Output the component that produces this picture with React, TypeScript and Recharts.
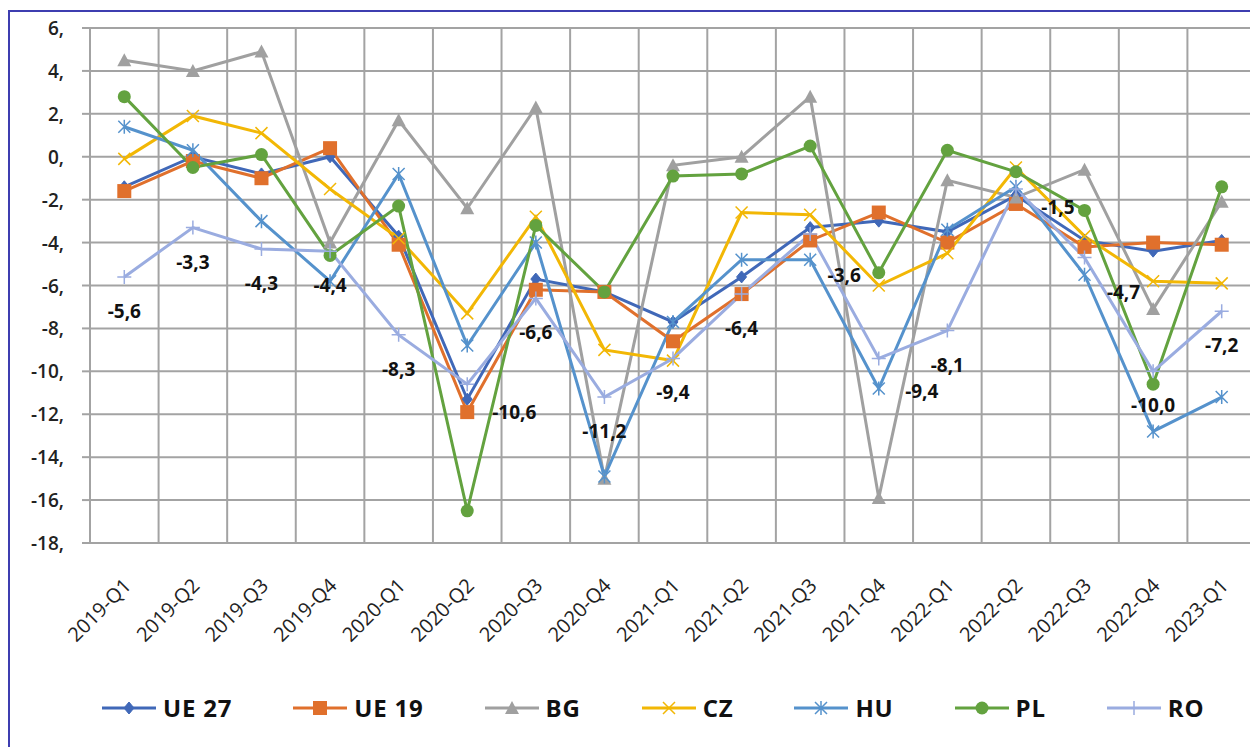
import React from 'react';
import { LineChart, Line, XAxis, YAxis, CartesianGrid, Legend, LabelList } from 'recharts';

const quarters = ['2019-Q1','2019-Q2','2019-Q3','2019-Q4','2020-Q1','2020-Q2','2020-Q3','2020-Q4','2021-Q1','2021-Q2','2021-Q3','2021-Q4','2022-Q1','2022-Q2','2022-Q3','2022-Q4','2023-Q1'];
const ue27 = [-1.4, 0.0, -0.8, 0.0, -3.7, -11.3, -5.7, -6.3, -7.7, -5.6, -3.3, -3.0, -3.5, -1.8, -3.9, -4.4, -3.9];
const ue19 = [-1.6, -0.2, -1.0, 0.4, -4.1, -11.9, -6.2, -6.3, -8.6, -6.4, -3.9, -2.6, -4.0, -2.2, -4.2, -4.0, -4.1];
const bg = [4.5, 4.0, 4.9, -4.0, 1.7, -2.4, 2.3, -15.0, -0.4, 0.0, 2.8, -15.9, -1.1, -1.9, -0.6, -7.1, -2.1];
const cz = [-0.1, 1.9, 1.1, -1.5, -3.8, -7.3, -2.8, -9.0, -9.5, -2.6, -2.7, -6.0, -4.5, -0.5, -3.7, -5.8, -5.9];
const hu = [1.4, 0.3, -3.0, -5.8, -0.8, -8.8, -4.0, -14.9, -7.7, -4.8, -4.8, -10.8, -3.4, -1.4, -5.5, -12.8, -11.2];
const pl = [2.8, -0.5, 0.1, -4.6, -2.3, -16.5, -3.2, -6.3, -0.9, -0.8, 0.5, -5.4, 0.3, -0.7, -2.5, -10.6, -1.4];
const ro = [-5.6, -3.3, -4.3, -4.4, -8.3, -10.6, -6.6, -11.2, -9.4, -6.4, -3.6, -9.4, -8.1, -1.5, -4.7, -10.0, -7.2];
const yTicks = [-18, -16, -14, -12, -10, -8, -6, -4, -2, 0, 2, 4, 6];

const data = quarters.map((q, i) => ({
  q, ue27: ue27[i], ue19: ue19[i], bg: bg[i], cz: cz[i], hu: hu[i], pl: pl[i], ro: ro[i],
}));

// label nudges for the RO data labels (dx, dy relative to point)
const roLabelNudge: Record<number, [number, number]> = {
  5: [47, 28], 10: [34, 41], 11: [43, 33], 13: [42, 18], 14: [39, 34],
};

const FONT = '"Open Sans", Lato, sans-serif';

type Shape = 'diamond' | 'square' | 'triangle' | 'x' | 'star' | 'circle' | 'plus';

const series: { key: string; name: string; color: string; shape: Shape }[] = [
  { key: 'ue27', name: 'UE 27', color: '#4068b8', shape: 'diamond' },
  { key: 'ue19', name: 'UE 19', color: '#e0702c', shape: 'square' },
  { key: 'bg', name: 'BG', color: '#a0a0a0', shape: 'triangle' },
  { key: 'cz', name: 'CZ', color: '#f2b705', shape: 'x' },
  { key: 'hu', name: 'HU', color: '#5592cc', shape: 'star' },
  { key: 'pl', name: 'PL', color: '#63a23f', shape: 'circle' },
  { key: 'ro', name: 'RO', color: '#9aace0', shape: 'plus' },
];

function Marker({ cx, cy, shape, color }: { cx: number; cy: number; shape: Shape; color: string }) {
  if (cx == null || cy == null || isNaN(cx) || isNaN(cy)) return null;
  switch (shape) {
    case 'diamond':
      return <path d={`M${cx},${cy - 6}L${cx + 5},${cy}L${cx},${cy + 6}L${cx - 5},${cy}Z`} fill={color} stroke={color} strokeWidth={1} />;
    case 'square':
      return <rect x={cx - 7} y={cy - 7} width={14} height={14} fill={color} />;
    case 'triangle':
      return <path d={`M${cx},${cy - 7}L${cx + 7},${cy + 6}L${cx - 7},${cy + 6}Z`} fill={color} />;
    case 'x':
      return <path d={`M${cx - 6},${cy - 6}L${cx + 6},${cy + 6}M${cx + 6},${cy - 6}L${cx - 6},${cy + 6}`} stroke={color} strokeWidth={1.5} fill="none" />;
    case 'star':
      return <path d={`M${cx - 6},${cy - 6}L${cx + 6},${cy + 6}M${cx + 6},${cy - 6}L${cx - 6},${cy + 6}M${cx},${cy - 7}L${cx},${cy + 7}`} stroke={color} strokeWidth={1.5} fill="none" />;
    case 'circle':
      return <circle cx={cx} cy={cy} r={6.5} fill={color} />;
    case 'plus':
      return <path d={`M${cx - 7},${cy}L${cx + 7},${cy}M${cx},${cy - 7}L${cx},${cy + 7}`} stroke={color} strokeWidth={1.5} fill="none" />;
  }
  return null;
}

const fmt = (v: number) => v.toFixed(1).replace('.', ',');

const XTick = (props: any) => {
  const { x, y, payload } = props;
  return (
    <text transform={`translate(${x + 8},${y + 44}) rotate(-45)`} textAnchor="end" fontFamily={FONT} fontSize={20} fill="#222">
      {payload.value}
    </text>
  );
};

const YTick = (props: any) => {
  const { x, y, payload } = props;
  return (
    <text x={x} y={y} dy={7} textAnchor="end" fontFamily={FONT} fontSize={19} fontWeight={600} fill="#222">
      {`${payload.value},`}
    </text>
  );
};

const RoLabel = (props: any) => {
  const { x, y, value, index } = props;
  const [dx, dy] = roLabelNudge[index] ?? [0, 34];
  return (
    <text x={x + dx} y={y + dy} textAnchor="middle" dominantBaseline="central" fontFamily={FONT} fontSize={19} fontWeight={700} fill="#111">
      {fmt(value)}
    </text>
  );
};

const LegendContent = () => (
  <div style={{ display: 'flex', alignItems: 'center', paddingLeft: 102, gap: 61, fontFamily: FONT }}>
    {series.map((s) => (
      <div key={s.key} style={{ display: 'flex', alignItems: 'center' }}>
        <svg width={56} height={20} style={{ display: 'block' }}>
          <line x1={0} y1={10} x2={54} y2={10} stroke={s.color} strokeWidth={3} />
          <Marker cx={27} cy={10} shape={s.shape} color={s.color} />
        </svg>
        <span style={{ fontSize: 24, fontWeight: 700, color: '#111', marginLeft: 5, letterSpacing: 0.8 }}>{s.name}</span>
      </div>
    ))}
  </div>
);

export default function App() {
  return (
    <div style={{ position: 'relative', width: 1250, height: 747, overflow: 'hidden', background: '#fff' }}>
      <style>{`body{margin:0;overflow:hidden;}`}</style>
      <div style={{ position: 'absolute', left: 8, top: 10, width: 1400, height: 900, borderTop: '2px solid #3d3db0', borderLeft: '2px solid #3d3db0', boxSizing: 'border-box' }} />
      <div style={{ position: 'absolute', left: 0, top: 0 }}>
        <LineChart width={1300} height={747} data={data} margin={{ top: 28, right: 44, left: 0, bottom: 0 }}>
          <CartesianGrid
            stroke="#a3a3a3"
            strokeWidth={2}
            verticalCoordinatesGenerator={({ offset }: any) =>
              quarters.map((_, i) => offset.left + (i * offset.width) / quarters.length).concat([offset.left + offset.width])
            }
          />
          <XAxis dataKey="q" scale="band" interval={0} tick={<XTick />} tickLine={false} tickSize={0} tickMargin={0} height={204} axisLine={{ stroke: '#a3a3a3', strokeWidth: 2 }} />
          <YAxis
            domain={[-18, 6]}
            ticks={yTicks}
            interval={0}
            width={90}
            tick={<YTick />}
            tickSize={8}
            tickMargin={18}
            tickLine={{ stroke: '#a3a3a3', strokeWidth: 2 }}
            axisLine={{ stroke: '#a3a3a3', strokeWidth: 2 }}
          />
          <Legend verticalAlign="top" content={<LegendContent />} wrapperStyle={{ top: 691, left: 0, width: 1300, height: 0 }} />
          {series.map((s) => (
            <Line
              key={s.key}
              dataKey={s.key}
              name={s.name}
              stroke={s.color}
              strokeWidth={3}
              isAnimationActive={false}
              dot={(p: any) => <Marker key={`${s.key}-${p.index}`} cx={p.cx} cy={p.cy} shape={s.shape} color={s.color} />}
              activeDot={false}
            >
              {s.key === 'ro' ? <LabelList dataKey="ro" content={<RoLabel />} /> : null}
            </Line>
          ))}
        </LineChart>
      </div>
    </div>
  );
}
